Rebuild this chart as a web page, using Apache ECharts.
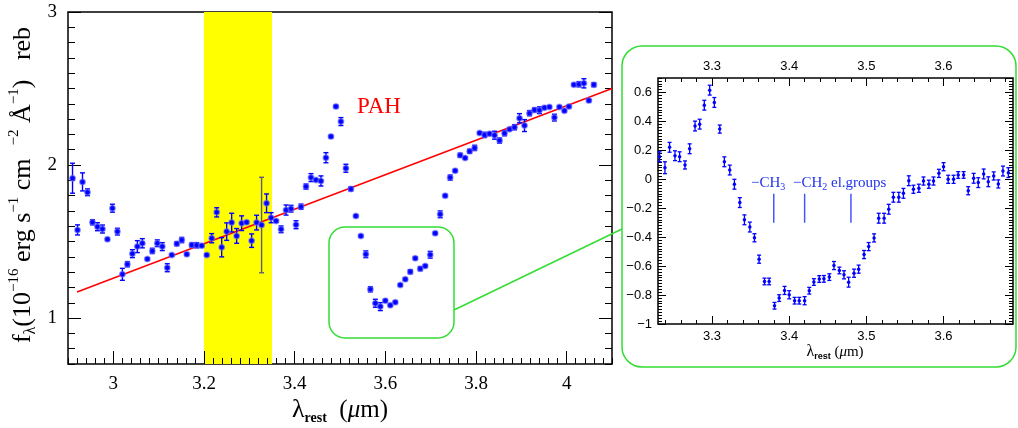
<!DOCTYPE html>
<html>
<head>
<meta charset="utf-8">
<script src="https://cdn.jsdelivr.net/npm/echarts@6/dist/echarts.min.js"></script>
<style>
  html, body { margin: 0; padding: 0; background: #fff; }
  #chart { width: 1018px; height: 428px; }
</style>
</head>
<body>
<div id="chart"></div>
<script>
// main spectrum (rest wavelength, flux, 1-sigma)
const mainX = [
  2.910, 2.921, 2.932, 2.943, 2.954, 2.965, 2.976, 2.987, 2.998, 3.009,
  3.020, 3.031, 3.042, 3.053, 3.064, 3.075, 3.086, 3.097, 3.108, 3.119,
  3.129, 3.140, 3.151, 3.162, 3.173, 3.184, 3.195, 3.206, 3.217, 3.228,
  3.239, 3.250, 3.261, 3.272, 3.283, 3.294, 3.305, 3.316, 3.327, 3.338,
  3.348, 3.359, 3.370, 3.381, 3.392, 3.403, 3.414, 3.425, 3.436, 3.447,
  3.458, 3.469, 3.480, 3.491, 3.502, 3.513, 3.524, 3.535, 3.546, 3.557,
  3.567, 3.578, 3.589, 3.600, 3.611, 3.622, 3.633, 3.644, 3.655, 3.666,
  3.677, 3.688, 3.699, 3.710, 3.721, 3.732, 3.743, 3.754, 3.765, 3.776,
  3.786, 3.797, 3.808, 3.819, 3.830, 3.841, 3.852, 3.863, 3.874, 3.885,
  3.896, 3.907, 3.918, 3.929, 3.940, 3.951, 3.962, 3.973, 3.984, 3.995,
  4.005, 4.016, 4.027, 4.038, 4.049, 4.060
];
const mainY = [
  1.914, 1.576, 1.890, 1.822, 1.626, 1.597, 1.582, 1.515, 1.718, 1.565,
  1.286, 1.352, 1.421, 1.467, 1.489, 1.386, 1.439, 1.489, 1.467, 1.329,
  1.412, 1.486, 1.510, 1.417, 1.478, 1.476, 1.473, 1.413, 1.522, 1.691,
  1.463, 1.565, 1.624, 1.537, 1.620, 1.626, 1.506, 1.624, 1.608, 1.750,
  1.656, 1.635, 1.580, 1.706, 1.715, 1.610, 1.728, 1.859, 1.918, 1.903,
  1.896, 2.048, 2.186, 2.382, 2.284, 1.979, 1.844, 1.667, 1.537, 1.417,
  1.188, 1.097, 1.075, 1.114, 1.084, 1.103, 1.216, 1.253, 1.303, 1.391,
  1.323, 1.341, 1.414, 1.554, 1.678, 1.800, 1.918, 1.963, 2.064, 2.046,
  2.090, 2.112, 2.210, 2.197, 2.205, 2.195, 2.160, 2.208, 2.234, 2.247,
  2.306, 2.258, 2.339, 2.360, 2.358, 2.375, 2.380, 2.310, 2.380, 2.354,
  2.382, 2.525, 2.528, 2.534, 2.421, 2.525
];
const mainErr = [
  0.098, 0.033, 0.059, 0.022, 0.017, 0.026, 0.026, 0.008, 0.026, 0.022,
  0.039, 0.017, 0.026, 0.039, 0.030, 0.008, 0.017, 0.022, 0.026, 0.026,
  0.008, 0.013, 0.017, 0.008, 0.013, 0.017, 0.008, 0.008, 0.030, 0.030,
  0.063, 0.057, 0.061, 0.048, 0.048, 0.008, 0.044, 0.048, 0.312, 0.061,
  0.033, 0.008, 0.022, 0.033, 0.022, 0.026, 0.017, 0.017, 0.026, 0.008,
  0.033, 0.033, 0.008, 0.008, 0.026, 0.026, 0.013, 0.008, 0.008, 0.022,
  0.017, 0.026, 0.026, 0.008, 0.008, 0.008, 0.008, 0.008, 0.013, 0.008,
  0.013, 0.008, 0.022, 0.008, 0.022, 0.008, 0.017, 0.008, 0.013, 0.008,
  0.013, 0.017, 0.008, 0.017, 0.008, 0.026, 0.017, 0.017, 0.008, 0.017,
  0.030, 0.039, 0.017, 0.013, 0.022, 0.008, 0.008, 0.022, 0.008, 0.008,
  0.008, 0.008, 0.017, 0.030, 0.008, 0.013
];
const greyErrIndex = [38];
const fitLine = [[2.92, 1.17], [4.10, 2.50]];
const pahBand = [3.20, 3.35];

// zoomed, continuum-subtracted spectrum
const insetX = [
  3.232, 3.239, 3.245, 3.252, 3.258, 3.265, 3.271, 3.278, 3.284, 3.290,
  3.297, 3.303, 3.310, 3.316, 3.323, 3.329, 3.336, 3.342, 3.349, 3.355,
  3.361, 3.368, 3.374, 3.381, 3.387, 3.394, 3.400, 3.407, 3.413, 3.420,
  3.426, 3.432, 3.439, 3.445, 3.452, 3.458, 3.465, 3.471, 3.477, 3.484,
  3.490, 3.497, 3.503, 3.510, 3.516, 3.523, 3.529, 3.535, 3.542, 3.548,
  3.555, 3.561, 3.568, 3.574, 3.581, 3.587, 3.594, 3.600, 3.606, 3.613,
  3.619, 3.626, 3.632, 3.639, 3.645, 3.652, 3.658, 3.665, 3.671, 3.677,
  3.684
];
const insetY = [
  0.156, 0.080, 0.221, 0.163, 0.156, 0.099, 0.211, 0.368, 0.381, 0.512,
  0.616, 0.531, 0.347, 0.121, 0.064, -0.034, -0.161, -0.280, -0.330, -0.404,
  -0.552, -0.706, -0.706, -0.874, -0.821, -0.768, -0.798, -0.839, -0.839, -0.839,
  -0.770, -0.710, -0.689, -0.688, -0.676, -0.596, -0.630, -0.660, -0.711, -0.649,
  -0.621, -0.520, -0.465, -0.405, -0.269, -0.269, -0.207, -0.124, -0.124, -0.097,
  -0.010, -0.069, -0.062, -0.012, -0.034, -0.012, 0.041, 0.087, 0.000, 0.000,
  0.030, 0.030, -0.079, 0.007, -0.023, 0.037, -0.017, 0.023, -0.032, 0.057,
  0.046
];
const insetErr = [
  0.034, 0.041, 0.034, 0.034, 0.034, 0.028, 0.034, 0.034, 0.034, 0.034,
  0.034, 0.034, 0.028, 0.034, 0.034, 0.034, 0.034, 0.034, 0.034, 0.028,
  0.028, 0.023, 0.023, 0.023, 0.023, 0.028, 0.028, 0.023, 0.023, 0.028,
  0.023, 0.023, 0.023, 0.023, 0.023, 0.028, 0.023, 0.028, 0.034, 0.028,
  0.028, 0.028, 0.028, 0.028, 0.034, 0.034, 0.034, 0.034, 0.034, 0.034,
  0.034, 0.028, 0.028, 0.028, 0.028, 0.028, 0.028, 0.028, 0.028, 0.028,
  0.023, 0.023, 0.028, 0.034, 0.034, 0.034, 0.034, 0.028, 0.028, 0.034,
  0.034
];
const featureX = [3.38, 3.42, 3.48];
const featureSpan = [-0.30, -0.10];

// ticks
const mainMajorX = [3, 3.2, 3.4, 3.6, 3.8, 4];
const mainMajorY = [1, 2, 3];
const insetMajorX = [3.3, 3.4, 3.5, 3.6];
const insetMinorX = [
  3.24, 3.26, 3.28, 3.30, 3.32, 3.34, 3.36, 3.38, 3.40, 3.42, 3.44, 3.46,
  3.48, 3.50, 3.52, 3.54, 3.56, 3.58, 3.60, 3.62, 3.64, 3.66, 3.68
];

const serif = 'Liberation Serif';
const sans = 'Liberation Sans';
const green = '#33dd33';
const blue = '#0000ff';

const chart = echarts.init(document.getElementById('chart'), null, { renderer: 'canvas' });

// 只画刻度的坐标轴（叠在同一边）
function tickAxis(grid, min, max, pos, opts) {
  const a = {
    gridIndex: grid, type: 'value', min: min, max: max, position: pos,
    axisLine: { show: false, onZero: false },
    axisTick: Object.assign({ inside: true, lineStyle: { color: '#000', width: 1 } }, opts.tick),
    axisLabel: Object.assign({ show: false }, opts.label || {}),
    splitLine: { show: false }
  };
  if (opts.interval) a.interval = opts.interval;
  return a;
}

// 误差棒
function errRenderer(cap, lw) {
  return function (params, api) {
    const x = api.value(0);
    const top = api.coord([x, api.value(2)]);
    const bot = api.coord([x, api.value(1)]);
    const stroke = api.value(3) ? '#5c5c72' : blue;
    const mk = (x1, y1, x2, y2) => ({
      type: 'line', shape: { x1, y1, x2, y2 }, style: { stroke: stroke, lineWidth: lw }
    });
    return {
      type: 'group', children: [
        mk(top[0], top[1], bot[0], bot[1]),
        mk(top[0] - cap, top[1], top[0] + cap, top[1]),
        mk(bot[0] - cap, bot[1], bot[0] + cap, bot[1])
      ]
    };
  };
}

const mainErrData = mainX.map((x, i) => [x, mainY[i] - mainErr[i], mainY[i] + mainErr[i], greyErrIndex.includes(i) ? 1 : 0]);
const insetErrData = insetX.map((x, i) => [x, insetY[i] - insetErr[i], insetY[i] + insetErr[i], 0]);

const mainLabel = { fontFamily: serif, fontSize: 19, color: '#000' };
const insetLabel = { fontFamily: sans, fontSize: 13, color: '#000' };

const option = {
  animation: false,
  backgroundColor: '#fff',
  grid: [
    { left: 68, top: 12, width: 544, height: 352, show: true, borderColor: '#000', borderWidth: 1.5, backgroundColor: 'transparent' },
    { left: 658, top: 78, width: 355, height: 246, show: true, borderColor: '#000', borderWidth: 1.5, backgroundColor: 'transparent' }
  ],
  xAxis: [
    tickAxis(0, 2.9, 4.1, 'bottom', { interval: 0.02, tick: { length: 6 } }),
    tickAxis(0, 2.9, 4.1, 'bottom', {
      tick: { length: 13, customValues: mainMajorX },
      label: Object.assign({ show: true, customValues: mainMajorX, margin: 11 }, mainLabel)
    }),
    tickAxis(1, 3.23, 3.69, 'bottom', { tick: { length: 4, customValues: insetMinorX } }),
    tickAxis(1, 3.23, 3.69, 'bottom', {
      tick: { length: 8, customValues: insetMajorX },
      label: Object.assign({ show: true, customValues: insetMajorX, margin: 6 }, insetLabel)
    }),
    tickAxis(1, 3.23, 3.69, 'top', { tick: { length: 4, customValues: insetMinorX } }),
    tickAxis(1, 3.23, 3.69, 'top', {
      tick: { length: 8, customValues: insetMajorX },
      label: Object.assign({ show: true, customValues: insetMajorX, margin: 5 }, insetLabel)
    })
  ],
  yAxis: [
    tickAxis(0, 0.7, 3, 'left', { interval: 0.1, tick: { length: 7 } }),
    tickAxis(0, 0.7, 3, 'left', {
      tick: { length: 13, customValues: mainMajorY },
      label: Object.assign({ show: true, customValues: mainMajorY, margin: 11 }, mainLabel)
    }),
    tickAxis(0, 0.7, 3, 'right', { interval: 0.1, tick: { length: 7 } }),
    tickAxis(0, 0.7, 3, 'right', { tick: { length: 13, customValues: mainMajorY } }),
    tickAxis(1, -1, 0.7, 'left', { interval: 0.02, tick: { length: 4 } }),
    tickAxis(1, -1, 0.7, 'left', {
      interval: 0.2, tick: { length: 8 },
      label: Object.assign({
        show: true, margin: 6, showMaxLabel: false,
        formatter: v => String(+v.toFixed(2)).replace('-', '\u2212')
      }, insetLabel)
    }),
    tickAxis(1, -1, 0.7, 'right', { interval: 0.02, tick: { length: 4 } }),
    tickAxis(1, -1, 0.7, 'right', { interval: 0.2, tick: { length: 8 } })
  ],
  series: [
    {
      type: 'custom', xAxisIndex: 0, yAxisIndex: 0, z: 0, silent: true,
      data: [pahBand],
      renderItem: (params, api) => {
        const p0 = api.coord([api.value(0), 3]);
        const p1 = api.coord([api.value(1), 0.7]);
        return { type: 'rect', shape: { x: p0[0], y: p0[1], width: p1[0] - p0[0], height: p1[1] - p0[1] }, style: { fill: '#ffff00' } };
      }
    },
    {
      type: 'line', xAxisIndex: 0, yAxisIndex: 0, z: 2, data: fitLine,
      symbol: 'none', lineStyle: { color: '#ff0000', width: 1.5 }
    },
    {
      type: 'custom', xAxisIndex: 0, yAxisIndex: 0, z: 3, data: mainErrData,
      encode: { x: 0, y: [1, 2] }, renderItem: errRenderer(2.5, 1.4)
    },
    {
      type: 'scatter', xAxisIndex: 0, yAxisIndex: 0, z: 4,
      data: mainX.map((x, i) => [x, mainY[i]]), symbolSize: 5.5,
      itemStyle: { color: blue, borderColor: 'rgba(110,110,255,0.55)', borderWidth: 1.5, opacity: 1 }
    },
    {
      type: 'custom', xAxisIndex: 2, yAxisIndex: 4, z: 3, data: insetErrData,
      encode: { x: 0, y: [1, 2] }, renderItem: errRenderer(2, 1.3)
    },
    {
      type: 'scatter', xAxisIndex: 2, yAxisIndex: 4, z: 4,
      data: insetX.map((x, i) => [x, insetY[i]]), symbolSize: 3.5,
      itemStyle: { color: blue, opacity: 1 }
    },
    {
      type: 'custom', xAxisIndex: 2, yAxisIndex: 4, z: 3, silent: true,
      data: featureX.map(x => [x, featureSpan[0], featureSpan[1]]),
      renderItem: (params, api) => {
        const a = api.coord([api.value(0), api.value(1)]);
        const b = api.coord([api.value(0), api.value(2)]);
        return { type: 'line', shape: { x1: a[0], y1: a[1], x2: b[0], y2: b[1] }, style: { stroke: '#4455ff', lineWidth: 1.5 } };
      }
    }
  ],
  graphic: [
    { type: 'rect', shape: { x: 622, y: 46, width: 394, height: 321, r: 20 }, style: { fill: 'none', stroke: green, lineWidth: 1.5 }, z: 10 },
    { type: 'rect', shape: { x: 329, y: 227, width: 125, height: 111, r: 16 }, style: { fill: 'none', stroke: green, lineWidth: 1.5 }, z: 10 },
    { type: 'line', shape: { x1: 454, y1: 310, x2: 622, y2: 229 }, style: { stroke: green, lineWidth: 1.5 }, z: 10 },
    {
      type: 'text', x: 357, y: 107, z: 10,
      style: { text: 'PAH', fill: '#ff0000', font: '23px "Liberation Serif"', verticalAlign: 'middle' }
    },
    {
      type: 'text', x: 23, y: 185, rotation: Math.PI / 2, z: 10,
      style: {
        text: '{i|f}{sub|\u03bb}{i|(10}{sup|\u221216}{i| erg s}{sup|\u22121}{i| cm  }{sup|\u22122}{i| \u00c5}{sup|\u22121}{i|)   reb}',
        align: 'center', verticalAlign: 'middle',
        rich: {
          i: { fontFamily: serif, fontSize: 26, lineHeight: 32, verticalAlign: 'middle', fill: '#000' },
          sup: { fontFamily: serif, fontSize: 15, lineHeight: 15, verticalAlign: 'top', fill: '#000' },
          sub: { fontFamily: serif, fontSize: 16, lineHeight: 16, verticalAlign: 'bottom', fill: '#000' }
        }
      }
    },
    {
      type: 'text', x: 340, y: 410, z: 10,
      style: {
        text: '{l|\u03bb}{s|rest}{n|  (}{m|\u03bc}{n|m)}',
        align: 'center', verticalAlign: 'middle',
        rich: {
          l: { fontFamily: serif, fontSize: 26, lineHeight: 30, verticalAlign: 'middle', fill: '#000' },
          s: { fontFamily: serif, fontSize: 14, fontWeight: 'bold', lineHeight: 14, verticalAlign: 'bottom', fill: '#000' },
          n: { fontFamily: serif, fontSize: 25, lineHeight: 30, verticalAlign: 'middle', fill: '#000' },
          m: { fontFamily: serif, fontSize: 25, fontStyle: 'italic', lineHeight: 30, verticalAlign: 'middle', fill: '#000' }
        }
      }
    },
    {
      type: 'text', x: 835, y: 352, z: 10,
      style: {
        text: '{l|\u03bb}{s|rest}{n| (}{m|\u03bc}{n|m)}',
        align: 'center', verticalAlign: 'middle',
        rich: {
          l: { fontFamily: serif, fontSize: 16, lineHeight: 18, verticalAlign: 'middle', fill: '#000' },
          s: { fontFamily: sans, fontSize: 9, fontWeight: 'bold', lineHeight: 9, verticalAlign: 'bottom', fill: '#000' },
          n: { fontFamily: serif, fontSize: 15, lineHeight: 18, verticalAlign: 'middle', fill: '#000' },
          m: { fontFamily: serif, fontSize: 15, fontStyle: 'italic', lineHeight: 18, verticalAlign: 'middle', fill: '#000' }
        }
      }
    },
    {
      type: 'text', x: 751, y: 183, z: 10,
      style: {
        text: '{t|\u2212CH}{s|3}', verticalAlign: 'middle',
        rich: {
          t: { fontFamily: serif, fontSize: 15, lineHeight: 18, verticalAlign: 'middle', fill: '#2233ee' },
          s: { fontFamily: serif, fontSize: 10, lineHeight: 10, verticalAlign: 'bottom', fill: '#2233ee' }
        }
      }
    },
    {
      type: 'text', x: 793, y: 183, z: 10,
      style: {
        text: '{t|\u2212CH}{s|2}{t| el.groups}', verticalAlign: 'middle',
        rich: {
          t: { fontFamily: serif, fontSize: 15, lineHeight: 18, verticalAlign: 'middle', fill: '#2233ee' },
          s: { fontFamily: serif, fontSize: 10, lineHeight: 10, verticalAlign: 'bottom', fill: '#2233ee' }
        }
      }
    }
  ]
};

chart.setOption(option);
</script>
</body>
</html>
